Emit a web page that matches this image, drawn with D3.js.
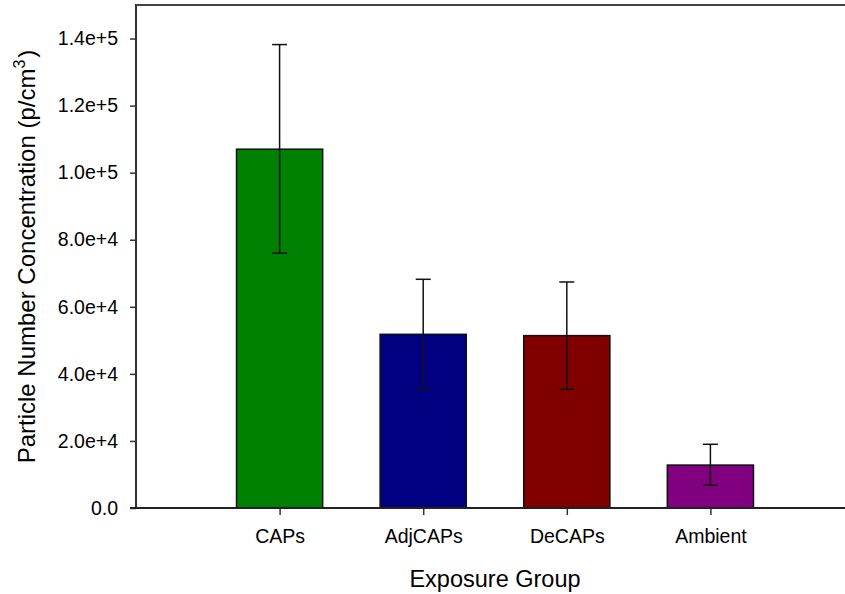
<!DOCTYPE html>
<html>
<head>
<meta charset="utf-8">
<script src="https://cdn.jsdelivr.net/npm/d3@7"></script>
<style>
  html, body { margin: 0; padding: 0; background: #fff; }
  svg { display: block; font-family: "Liberation Sans", Arial, sans-serif; }
</style>
</head>
<body>
<svg id="chart" width="845" height="594"></svg>
<script>
// Exposure groups and particle number concentration (mean with lower/upper error bounds)
const groups = ["CAPs", "AdjCAPs", "DeCAPs", "Ambient"];
const means = [107000, 51800, 51400, 12800];
const upper = [138200, 68200, 67400, 19000];
const lower = [76000, 35400, 35400, 6800];
const barColors = ["#008000", "#000080", "#800000", "#800080"];
const yTickValues = [0, 20000, 40000, 60000, 80000, 100000, 120000, 140000];
const yTickLabels = ["0.0", "2.0e+4", "4.0e+4", "6.0e+4", "8.0e+4", "1.0e+5", "1.2e+5", "1.4e+5"];

const svg = d3.select("#chart");
const plotLeft = 136, plotRight = 854, plotTop = 5, plotBottom = 508;

// x: group slots 1..4 along a 0..5 axis
const x = d3.scaleLinear().domain([0, groups.length + 1]).range([plotLeft, plotRight]);
const y = d3.scaleLinear().domain([0, 150000]).range([plotBottom, plotTop]);
const barW = (x(1) - x(0)) * 0.6;

// bars
svg.append("g").selectAll("rect")
  .data(groups)
  .join("rect")
  .attr("x", (d, i) => x(i + 1) - barW / 2)
  .attr("y", (d, i) => y(means[i]))
  .attr("width", barW)
  .attr("height", (d, i) => y(0) - y(means[i]))
  .attr("fill", (d, i) => barColors[i])
  .attr("stroke", "#111")
  .attr("stroke-width", 1.5);

// error bars
const capW = 15;
const err = svg.append("g").attr("stroke", "#111").attr("stroke-width", 1.5);
groups.forEach((g, i) => {
  const cx = x(i + 1);
  err.append("line").attr("x1", cx).attr("x2", cx).attr("y1", y(lower[i])).attr("y2", y(upper[i]));
  err.append("line").attr("x1", cx - capW / 2).attr("x2", cx + capW / 2).attr("y1", y(upper[i])).attr("y2", y(upper[i]));
  err.append("line").attr("x1", cx - capW / 2).attr("x2", cx + capW / 2).attr("y1", y(lower[i])).attr("y2", y(lower[i]));
});

// y axis
const yAxis = d3.axisLeft(y)
  .tickValues(yTickValues)
  .tickFormat((d, i) => yTickLabels[i])
  .tickSize(6)
  .tickPadding(12);
const gy = svg.append("g").attr("transform", `translate(${plotLeft},0)`).call(yAxis);
gy.select(".domain").remove();
gy.append("line").attr("x1", 0).attr("x2", 0).attr("y1", plotTop - 1).attr("y2", plotBottom + 1)
  .attr("stroke", "#333").attr("stroke-width", 2);
gy.selectAll(".tick line").attr("stroke", "#333").attr("stroke-width", 1.5);
gy.selectAll(".tick text").attr("fill", "#000").style("font-size", "19.5px")
  .style("font-family", "'Liberation Sans', Arial, sans-serif");

// x axis
const xAxis = d3.axisBottom(x)
  .tickValues(groups.map((g, i) => i + 1))
  .tickFormat((d) => groups[d - 1])
  .tickSize(7)
  .tickPadding(14);
const gx = svg.append("g").attr("transform", `translate(0,${plotBottom})`).call(xAxis);
gx.select(".domain").remove();
gx.append("line").attr("x1", plotLeft - 6).attr("x2", plotRight).attr("y1", 0).attr("y2", 0)
  .attr("stroke", "#222").attr("stroke-width", 2);
gx.selectAll(".tick line").attr("stroke", "#333").attr("stroke-width", 1.5);
gx.selectAll(".tick text").attr("fill", "#000").style("font-size", "19.5px")
  .style("font-family", "'Liberation Sans', Arial, sans-serif");

// top frame line
svg.append("line").attr("x1", plotLeft).attr("x2", plotRight).attr("y1", plotTop).attr("y2", plotTop)
  .attr("stroke", "#444").attr("stroke-width", 2);

// axis titles
svg.append("text")
  .attr("x", (plotLeft + plotRight) / 2)
  .attr("y", 587)
  .attr("text-anchor", "middle")
  .style("font-size", "23.5px")
  .text("Exposure Group");

const yTitle = svg.append("text")
  .attr("transform", `translate(35,${(plotTop + plotBottom) / 2}) rotate(-90)`)
  .attr("text-anchor", "middle")
  .style("font-size", "24px");
yTitle.append("tspan").text("Particle Number Concentration (p/cm");
yTitle.append("tspan").attr("dy", -10).style("font-size", "16px").text("3");
yTitle.append("tspan").attr("dy", 10).attr("dx", 2).text(")");
</script>
</body>
</html>
